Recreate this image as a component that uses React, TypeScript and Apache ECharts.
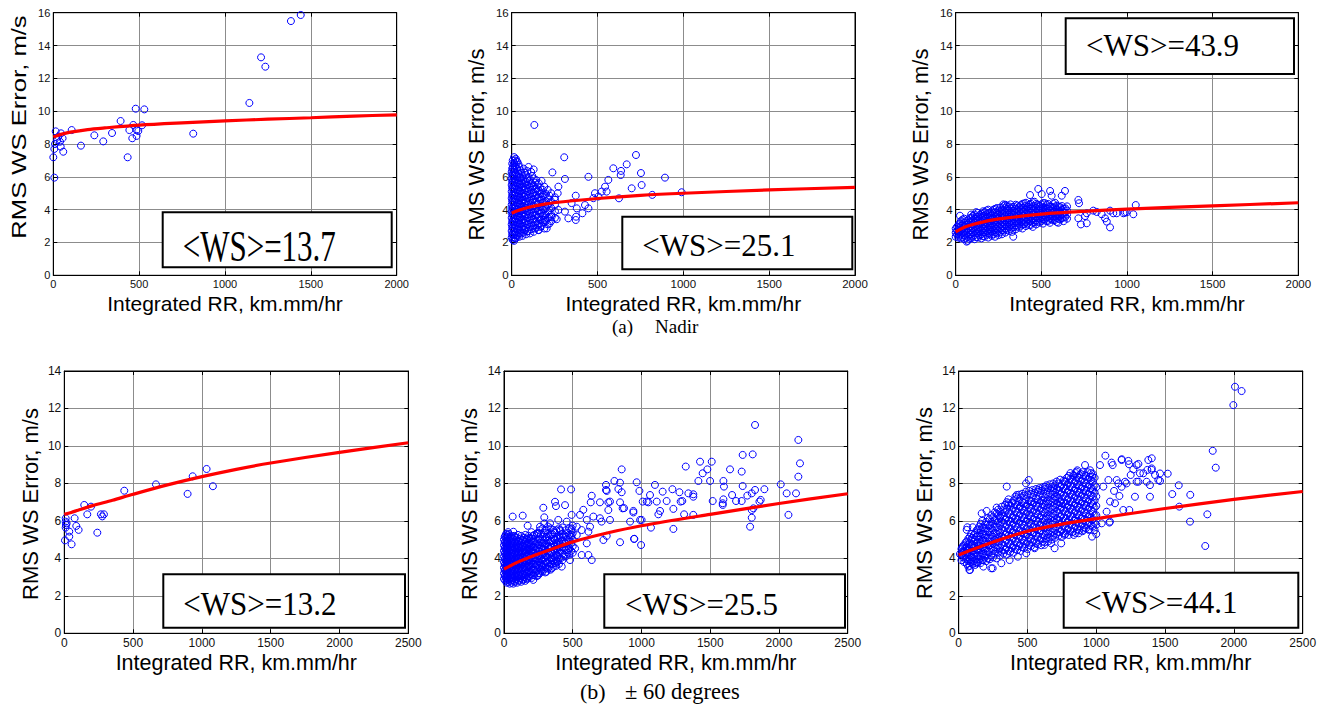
import React, { useEffect, useRef } from "react";
import * as echarts from "echarts";

// ------------------------------------------------------------------ data
const topXMax = 2000;
const bottomXMax = 2500;
const xInterval = 500;
const topYMax = 16;
const bottomYMax = 14;
const yInterval = 2;

const xTitle = "Integrated RR, km.mm/hr";
const yTitle = "RMS WS Error, m/s";
const wsLabels = ["<WS>=13.7", "<WS>=25.1", "<WS>=43.9", "<WS>=13.2", "<WS>=25.5", "<WS>=44.1"];
const captionA = ["(a)", "Nadir"];
const captionB = ["(b)", "± 60 degrees"];

type Col = [number, number[]];

// (a) Nadir, <WS>=13.7
const p1Points = [
  [1441, 15.86], [1384, 15.49], [1210, 13.28], [1235, 12.71], [1142, 10.5], [815, 8.63],
  [480, 10.15], [530, 10.11], [392, 9.4], [466, 9.16], [517, 9.14], [443, 8.85], [485, 8.85],
  [495, 8.79], [460, 8.35], [485, 8.49], [433, 7.19], [342, 8.67], [239, 8.53], [291, 8.16],
  [161, 7.9], [107, 8.85], [14, 8.77], [45, 8.65], [54, 8.35], [39, 8.14], [43, 7.84],
  [58, 7.53], [10, 8.0], [6, 7.7], [0, 7.19], [6, 5.95], [23, 8.24], [29, 8.45],
];
const p1Fit = [
  [0, 8.42], [25, 8.52], [50, 8.6], [100, 8.72], [200, 8.88], [300, 8.98], [500, 9.15],
  [750, 9.29], [1000, 9.41], [1250, 9.51], [1500, 9.6], [1750, 9.7], [2000, 9.78],
];

// (a) Nadir, <WS>=25.1
const p2Points = [
  [132, 9.16], [306, 7.19], [724, 7.33], [670, 6.76], [592, 6.52], [637, 6.36], [635, 6.11],
  [753, 6.23], [893, 5.95], [757, 5.5], [699, 5.3], [625, 4.69], [819, 4.9], [990, 5.06],
  [563, 5.81], [544, 5.4], [524, 5.1], [485, 5.0], [476, 4.7], [505, 4.8], [553, 5.1],
  [447, 6.0], [373, 4.85], [447, 4.08], [373, 3.37], [375, 3.57], [412, 3.78], [427, 4.28],
  [310, 3.88], [330, 3.47], [272, 3.98], [262, 3.42], [233, 3.57], [237, 6.27], [272, 5.4],
  [268, 5.0], [310, 5.87], [252, 4.6], [349, 4.4], [379, 4.08], [204, 2.86], [194, 3.37],
  [155, 2.76],
];
const p2Cloud: Col[] = [
  [0, [2.3, 2.7, 3.1, 3.5, 3.9, 4.3, 4.7, 5.1, 5.5, 5.9, 6.3]],
  [3, [2.5, 2.92, 3.28, 3.72, 4.1, 4.52, 4.88, 5.32, 5.7, 6.12, 6.5, 6.8]],
  [6, [2.15, 2.5, 2.9, 3.3, 3.7, 4.1, 4.5, 4.9, 5.3, 5.7, 6.1, 6.55, 7.0]],
  [10, [2.3, 2.68, 3.1, 3.48, 3.88, 4.3, 4.68, 5.08, 5.48, 5.9, 6.28, 6.72]],
  [14, [2.1, 2.45, 2.85, 3.25, 3.65, 4.05, 4.45, 4.85, 5.25, 5.65, 6.05, 6.45, 6.85, 7.2]],
  [19, [2.28, 2.62, 3.05, 3.42, 3.86, 4.22, 4.64, 5.02, 5.44, 5.84, 6.22, 6.62, 7.0]],
  [24, [2.25, 2.65, 3.05, 3.45, 3.85, 4.25, 4.65, 5.05, 5.45, 5.85, 6.25, 6.7, 7.1]],
  [29, [2.45, 2.86, 3.24, 3.66, 4.04, 4.46, 4.84, 5.26, 5.66, 6.06, 6.5, 6.95]],
  [34, [2.4, 2.8, 3.2, 3.6, 4.0, 4.4, 4.8, 5.2, 5.6, 6.0, 6.4, 6.9]],
  [40, [2.55, 2.98, 3.38, 3.78, 4.18, 4.58, 4.98, 5.38, 5.78, 6.2, 6.75]],
  [45, [2.35, 2.75, 3.15, 3.55, 3.95, 4.35, 4.75, 5.15, 5.55, 5.95, 6.6]],
  [51, [2.6, 3.12, 3.52, 3.92, 4.32, 4.72, 5.12, 5.52, 5.95, 6.4]],
  [57, [2.55, 2.95, 3.35, 3.75, 4.15, 4.55, 4.95, 5.35, 5.75, 6.25]],
  [63, [2.4, 2.8, 3.2, 3.6, 4.0, 4.4, 4.8, 5.2, 5.6, 6.05]],
  [70, [2.6, 3.0, 3.4, 3.8, 4.2, 4.6, 5.0, 5.4, 5.9, 6.5]],
  [77, [2.75, 3.18, 3.58, 3.98, 4.38, 4.78, 5.18, 5.6, 6.25]],
  [84, [2.5, 2.9, 3.3, 3.7, 4.1, 4.5, 4.9, 5.3, 5.7, 6.1]],
  [91, [2.68, 3.1, 3.5, 3.9, 4.3, 4.72, 5.12, 5.5, 5.85, 6.35]],
  [98, [2.7, 3.1, 3.5, 3.9, 4.3, 4.7, 5.1, 5.5, 6.0, 6.6]],
  [106, [2.55, 2.95, 3.35, 3.75, 4.15, 4.55, 4.95, 5.35, 5.8]],
  [113, [2.8, 3.2, 3.6, 4.0, 4.4, 4.8, 5.2, 5.6, 6.3]],
  [120, [3.0, 3.4, 3.8, 4.2, 4.6, 5.0, 5.4, 6.05]],
  [128, [2.65, 3.05, 3.45, 3.85, 4.25, 4.65, 5.05, 5.45, 5.9, 6.45]],
  [136, [2.85, 3.25, 3.65, 4.05, 4.45, 4.85, 5.25, 5.65]],
  [143, [2.9, 3.3, 3.7, 4.1, 4.5, 4.9, 5.3, 5.8]],
  [151, [3.05, 3.5, 3.9, 4.3, 4.7, 5.1, 5.5]],
  [158, [2.75, 3.15, 3.55, 3.95, 4.35, 4.75, 5.15, 5.6]],
  [166, [2.95, 3.35, 3.75, 4.15, 4.55, 4.95, 5.35]],
  [174, [3.0, 3.4, 3.8, 4.2, 4.6, 5.0, 5.75]],
  [182, [3.2, 3.6, 4.0, 4.4, 4.8, 5.2]],
  [190, [2.85, 3.25, 3.65, 4.05, 4.45, 4.9, 5.4]],
  [200, [3.3, 3.7, 4.1, 4.5, 4.95]],
  [210, [3.1, 3.5, 3.9, 4.3, 4.7, 5.2]],
  [220, [3.15, 3.55, 3.95, 4.4, 4.85]],
  [230, [3.3, 3.7, 4.1, 4.5, 5.0]],
  [252, [3.5, 3.9, 4.3, 4.75]],
];
const p2Fit = [
  [0, 3.78], [25, 3.9], [50, 4.0], [100, 4.15], [200, 4.35], [300, 4.48], [500, 4.68],
  [750, 4.87], [1000, 5.0], [1500, 5.2], [2000, 5.36],
];

// (a) Nadir, <WS>=43.9
const p3Points = [
  [482, 5.26], [434, 4.89], [502, 4.95], [551, 5.14], [560, 4.85], [638, 5.14], [619, 4.85],
  [410, 4.42], [278, 4.32], [298, 4.22], [25, 3.63], [716, 4.59], [720, 4.39], [1051, 4.28],
  [1037, 3.72], [901, 2.92], [731, 3.1], [765, 3.17], [716, 3.47], [803, 3.94], [765, 3.78],
  [852, 3.72], [872, 3.47], [882, 3.27], [920, 3.78], [940, 3.78], [979, 3.78], [998, 3.84],
  [823, 3.86], [336, 2.35], [599, 3.2], [64, 2.05], [755, 3.61], [988, 3.82], [901, 3.94],
];
const p3Cloud: Col[] = [
  [0, [2.35, 2.6, 2.85]],
  [8, [2.48, 2.72, 2.95]],
  [15, [2.3, 2.55, 2.8, 3.05]],
  [22, [2.4, 2.66, 2.92, 3.15]],
  [30, [2.25, 2.5, 2.75, 3.0, 3.3]],
  [40, [2.33, 2.6, 2.86, 3.1, 3.4]],
  [50, [2.2, 2.45, 2.7, 2.95, 3.2, 3.45]],
  [60, [2.28, 2.55, 2.8, 3.05, 3.3]],
  [70, [2.1, 2.35, 2.6, 2.85, 3.1, 3.35]],
  [80, [2.22, 2.48, 2.72, 2.98, 3.22, 3.48]],
  [90, [2.25, 2.5, 2.75, 3.0, 3.25, 3.5, 3.7]],
  [100, [2.36, 2.62, 2.88, 3.12, 3.38, 3.62]],
  [110, [2.2, 2.45, 2.7, 2.95, 3.2, 3.45, 3.7]],
  [120, [2.32, 2.58, 2.82, 3.08, 3.34, 3.58, 3.85]],
  [130, [2.3, 2.55, 2.8, 3.05, 3.3, 3.55, 3.8]],
  [140, [2.42, 2.68, 2.92, 3.18, 3.42, 3.68]],
  [150, [2.25, 2.5, 2.75, 3.0, 3.25, 3.5, 3.75]],
  [160, [2.38, 2.62, 2.88, 3.12, 3.38, 3.62, 3.9]],
  [170, [2.35, 2.6, 2.85, 3.1, 3.35, 3.6, 3.85]],
  [180, [2.46, 2.72, 2.98, 3.22, 3.48, 3.72, 3.95]],
  [190, [2.3, 2.55, 2.8, 3.05, 3.3, 3.55, 3.8, 4.0]],
  [200, [2.52, 2.78, 3.02, 3.28, 3.52, 3.78]],
  [210, [2.4, 2.65, 2.9, 3.15, 3.4, 3.65, 3.9]],
  [220, [2.5, 2.76, 3.0, 3.26, 3.5, 3.76, 4.0]],
  [230, [2.35, 2.6, 2.85, 3.1, 3.35, 3.6, 3.85, 4.05]],
  [240, [2.58, 2.82, 3.08, 3.32, 3.58, 3.82, 4.1]],
  [250, [2.45, 2.7, 2.95, 3.2, 3.45, 3.7, 3.95]],
  [260, [2.62, 2.88, 3.12, 3.38, 3.62, 3.88, 4.12]],
  [270, [2.5, 2.75, 3.0, 3.25, 3.5, 3.75, 4.0]],
  [280, [2.72, 2.98, 3.22, 3.48, 3.72, 3.98, 4.22]],
  [290, [2.6, 2.85, 3.1, 3.35, 3.6, 3.85, 4.1, 4.3]],
  [300, [2.78, 3.02, 3.28, 3.52, 3.78, 4.02]],
  [310, [2.7, 2.95, 3.2, 3.45, 3.7, 3.95, 4.2]],
  [320, [2.82, 3.08, 3.32, 3.58, 3.82, 4.08, 4.32]],
  [330, [2.65, 2.9, 3.15, 3.4, 3.65, 3.9, 4.15]],
  [340, [2.92, 3.18, 3.42, 3.68, 3.92, 4.18]],
  [350, [2.8, 3.05, 3.3, 3.55, 3.8, 4.05, 4.3]],
  [360, [2.98, 3.22, 3.48, 3.72, 3.98, 4.25]],
  [370, [2.9, 3.15, 3.4, 3.65, 3.9, 4.15]],
  [380, [3.02, 3.28, 3.52, 3.78, 4.02, 4.28]],
  [390, [2.85, 3.1, 3.35, 3.6, 3.85, 4.1, 4.35]],
  [400, [3.12, 3.38, 3.62, 3.88, 4.12, 4.38]],
  [410, [3.0, 3.25, 3.5, 3.75, 4.0, 4.25]],
  [420, [3.15, 3.42, 3.68, 3.92, 4.18]],
  [430, [3.05, 3.3, 3.55, 3.8, 4.05, 4.3]],
  [440, [3.08, 3.32, 3.58, 3.82, 4.08, 4.35]],
  [450, [2.95, 3.2, 3.45, 3.7, 3.95, 4.2, 4.45]],
  [460, [3.22, 3.48, 3.72, 3.98, 4.22, 4.48]],
  [470, [3.1, 3.35, 3.6, 3.85, 4.1, 4.35]],
  [480, [3.28, 3.52, 3.78, 4.02, 4.3]],
  [490, [3.2, 3.45, 3.7, 3.95, 4.2]],
  [500, [3.3, 3.55, 3.8, 4.08, 4.32]],
  [510, [3.15, 3.4, 3.65, 3.9, 4.15, 4.4]],
  [520, [3.38, 3.62, 3.88, 4.12, 4.4]],
  [530, [3.3, 3.55, 3.8, 4.05, 4.3]],
  [540, [3.32, 3.58, 3.82, 4.08, 4.35]],
  [550, [3.2, 3.45, 3.7, 3.95, 4.2]],
  [560, [3.42, 3.68, 3.92, 4.18]],
  [570, [3.35, 3.6, 3.85, 4.1, 4.35]],
  [580, [3.38, 3.62, 3.88, 4.15, 4.42]],
  [590, [3.25, 3.5, 3.75, 4.0, 4.25]],
  [600, [3.45, 3.72, 3.95, 4.2]],
  [610, [3.4, 3.65, 3.9, 4.15]],
  [620, [3.48, 3.72, 3.98, 4.22]],
  [630, [3.3, 3.55, 3.8, 4.05]],
  [640, [3.55, 3.82, 4.08]],
  [650, [3.45, 3.7, 3.95, 4.2]],
];
const p3Fit = [
  [0, 2.65], [25, 2.8], [50, 2.93], [100, 3.1], [200, 3.35], [300, 3.5], [500, 3.73],
  [750, 3.9], [1000, 4.03], [1500, 4.23], [2000, 4.42],
];

// (b) ±60 degrees, <WS>=13.2
const p4Points = [
  [1034, 8.77], [933, 8.38], [1080, 7.85], [896, 7.44], [666, 7.95], [436, 7.61], [145, 6.85],
  [194, 6.76], [167, 6.35], [266, 6.35], [288, 6.35], [276, 6.24], [240, 5.37], [75, 6.14],
  [87, 5.73], [104, 5.52], [36, 5.43], [36, 5.16], [53, 4.75], [5, 4.96], [10, 6.14],
  [10, 5.96], [12, 5.78], [10, 5.64], [17, 5.87],
];
const p4Fit = [
  [0, 6.35], [50, 6.45], [100, 6.57], [200, 6.8], [350, 7.1], [500, 7.42], [750, 7.92],
  [1000, 8.36], [1250, 8.75], [1500, 9.09], [2000, 9.66], [2500, 10.17],
];

// (b) ±60 degrees, <WS>=25.5
const p5Points = [
  [1826, 11.12], [2141, 10.32], [2153, 9.07], [2141, 8.36], [1809, 9.55], [1736, 9.52],
  [1729, 8.63], [2013, 7.95], [2056, 7.47], [2124, 7.47], [2069, 6.32], [1894, 7.69],
  [1867, 7.12], [1858, 7.03], [1826, 7.65], [1802, 7.47], [1790, 5.69], [1802, 6.17],
  [1802, 6.58], [1814, 6.67], [1770, 7.35], [1729, 7.06], [1736, 7.86], [1688, 7.06],
  [1659, 7.38], [1644, 8.75], [1591, 6.94], [1596, 8.13], [1600, 7.83], [1596, 7.15],
  [1591, 6.85], [1511, 9.16], [1499, 8.13], [1518, 7.06], [1479, 8.75], [1445, 8.54],
  [1426, 9.16], [1414, 8.13], [1377, 7.42], [1377, 7.29], [1377, 6.32], [1341, 7.47],
  [1322, 8.9], [1310, 6.35], [1297, 7.06], [1285, 7.03], [1276, 7.53], [1232, 6.64],
  [1232, 5.57], [1225, 7.69], [1183, 7.06], [1154, 7.56], [1135, 6.53], [1123, 6.35],
  [1111, 7.03], [1098, 7.92], [1069, 5.64], [1062, 7.38], [1038, 7.03], [1009, 7.03],
  [1001, 6.05], [997, 4.71], [985, 7.6], [965, 8.06], [948, 5.04], [941, 6.53], [917, 5.96],
  [863, 6.67], [856, 8.75], [844, 8.04], [844, 4.86], [856, 7.53], [803, 8.13], [742, 7.65],
  [742, 7.92], [771, 7.03], [759, 6.58], [723, 4.98],
  [415, 7.68], [488, 7.68], [286, 6.7], [371, 7.02], [444, 6.84], [378, 6.79], [63, 6.23],
  [136, 6.28], [293, 6.19], [293, 5.87], [172, 5.74], [68, 5.42], [638, 7.34], [631, 6.99],
  [698, 6.99], [759, 6.99], [747, 7.6], [832, 7.7], [844, 6.99], [873, 6.68], [941, 6.45],
  [1050, 6.99], [990, 6.05], [946, 5.04], [747, 5.2], [771, 6.05], [710, 5.96], [626, 5.69],
  [614, 5.42], [602, 4.8], [638, 3.91], [614, 4.18], [565, 4.18], [517, 4.53], [529, 5.24],
  [529, 5.69], [565, 5.51], [602, 6.05], [650, 6.23], [698, 6.14], [553, 6.32], [577, 6.59],
  [492, 6.32], [456, 5.96], [492, 5.6], [492, 5.24], [432, 5.15], [444, 4.8], [468, 4.45],
  [480, 3.91], [432, 4.09], [383, 3.82], [347, 3.47], [310, 3.29], [262, 3.74], [250, 3.11],
  [213, 2.85], [201, 4.36], [238, 5.33], [262, 5.69], [335, 5.87], [359, 5.51], [395, 6.05],
  [407, 5.51], [371, 4.98], [323, 4.62], [286, 4.27], [310, 5.15], [383, 4.53], [420, 3.56],
  [347, 3.91], [274, 3.56],
];
const p5Cloud: Col[] = [
  [0, [2.9, 3.2, 3.5, 3.8, 4.1, 4.4, 4.7, 5.0]],
  [5, [3.05, 3.35, 3.65, 3.95, 4.25, 4.55, 4.85, 5.15]],
  [10, [2.8, 3.1, 3.4, 3.7, 4.0, 4.3, 4.6, 4.9, 5.2]],
  [15, [2.95, 3.25, 3.55, 3.85, 4.15, 4.45, 4.75, 5.05, 5.3]],
  [20, [2.7, 3.0, 3.3, 3.6, 3.9, 4.2, 4.5, 4.8, 5.1]],
  [25, [2.85, 3.15, 3.45, 3.75, 4.05, 4.35, 4.65, 4.95, 5.25]],
  [30, [2.75, 3.05, 3.35, 3.65, 3.95, 4.25, 4.55, 4.85, 5.15, 5.4]],
  [36, [2.9, 3.2, 3.5, 3.8, 4.1, 4.4, 4.7, 5.0, 5.3]],
  [42, [2.65, 2.95, 3.25, 3.55, 3.85, 4.15, 4.45, 4.75, 5.05]],
  [48, [2.8, 3.1, 3.4, 3.7, 4.0, 4.3, 4.6, 4.9, 5.2]],
  [55, [2.7, 3.0, 3.3, 3.6, 3.9, 4.2, 4.5, 4.8, 5.1]],
  [61, [2.85, 3.15, 3.45, 3.75, 4.05, 4.35, 4.65, 4.95]],
  [68, [2.65, 2.95, 3.25, 3.55, 3.85, 4.15, 4.45, 4.75, 5.05]],
  [74, [2.8, 3.1, 3.4, 3.7, 4.0, 4.3, 4.6, 4.9, 5.2]],
  [80, [2.75, 3.05, 3.35, 3.65, 3.95, 4.25, 4.55, 4.85, 5.15]],
  [88, [2.9, 3.2, 3.5, 3.8, 4.1, 4.4, 4.7, 5.0]],
  [95, [2.7, 3.0, 3.3, 3.6, 3.9, 4.2, 4.5, 4.8, 5.1]],
  [102, [2.85, 3.15, 3.45, 3.75, 4.05, 4.35, 4.65, 4.95, 5.25]],
  [110, [2.8, 3.1, 3.4, 3.7, 4.0, 4.3, 4.6, 4.9]],
  [118, [2.95, 3.25, 3.55, 3.85, 4.15, 4.45, 4.75, 5.05]],
  [125, [2.75, 3.05, 3.35, 3.65, 3.95, 4.25, 4.55, 4.85, 5.2]],
  [132, [2.9, 3.2, 3.5, 3.8, 4.1, 4.4, 4.7, 5.0]],
  [140, [2.85, 3.15, 3.45, 3.75, 4.05, 4.35, 4.65, 4.95]],
  [148, [3.0, 3.3, 3.6, 3.9, 4.2, 4.5, 4.8, 5.1]],
  [155, [2.8, 3.1, 3.4, 3.7, 4.0, 4.3, 4.6, 4.9, 5.25]],
  [163, [2.95, 3.25, 3.55, 3.85, 4.15, 4.45, 4.75, 5.05]],
  [170, [2.9, 3.2, 3.5, 3.8, 4.1, 4.4, 4.7, 5.0]],
  [178, [3.05, 3.35, 3.65, 3.95, 4.25, 4.55, 4.85, 5.2]],
  [185, [3.0, 3.3, 3.6, 3.9, 4.2, 4.5, 4.8, 5.1]],
  [193, [3.15, 3.45, 3.75, 4.05, 4.35, 4.65, 4.95]],
  [200, [2.95, 3.25, 3.55, 3.85, 4.15, 4.45, 4.75, 5.05, 5.4]],
  [210, [3.1, 3.4, 3.7, 4.0, 4.3, 4.6, 4.9, 5.2]],
  [220, [3.1, 3.4, 3.7, 4.0, 4.3, 4.6, 4.9, 5.25]],
  [230, [3.25, 3.55, 3.85, 4.15, 4.45, 4.75, 5.05]],
  [240, [3.05, 3.35, 3.65, 3.95, 4.25, 4.55, 4.85, 5.3]],
  [250, [3.2, 3.5, 3.8, 4.1, 4.4, 4.7, 5.0, 5.35]],
  [260, [3.2, 3.5, 3.8, 4.1, 4.4, 4.7, 5.0, 5.5]],
  [270, [3.35, 3.65, 3.95, 4.25, 4.55, 4.85, 5.3]],
  [280, [3.3, 3.6, 3.9, 4.2, 4.5, 4.8, 5.15, 5.6]],
  [290, [3.4, 3.7, 4.0, 4.3, 4.65, 4.95, 5.35]],
  [300, [3.25, 3.55, 3.85, 4.15, 4.45, 4.75, 5.1, 5.5]],
  [310, [3.5, 3.8, 4.1, 4.4, 4.8, 5.15, 5.5]],
  [320, [3.45, 3.75, 4.05, 4.35, 4.65, 4.95, 5.3, 5.7]],
  [330, [3.55, 3.9, 4.2, 4.55, 4.85, 5.15]],
  [340, [3.4, 3.7, 4.0, 4.3, 4.6, 4.9, 5.25, 5.6]],
  [350, [3.7, 4.0, 4.3, 4.6, 4.95, 5.3]],
  [360, [3.55, 3.85, 4.15, 4.45, 4.75, 5.05, 5.4]],
  [370, [3.75, 4.05, 4.35, 4.65, 5.0, 5.35]],
  [380, [3.6, 3.9, 4.2, 4.5, 4.8, 5.1, 5.5]],
  [390, [3.85, 4.15, 4.45, 4.75, 5.05]],
  [400, [3.7, 4.0, 4.3, 4.6, 4.9, 5.2, 5.6]],
  [412, [4.0, 4.4, 4.75, 5.1, 5.45]],
  [425, [3.9, 4.25, 4.6, 4.95, 5.3, 5.65]],
  [438, [4.2, 4.55, 4.9, 5.25]],
  [450, [4.1, 4.45, 4.8, 5.15, 5.5]],
  [462, [4.3, 4.65, 5.0, 5.35]],
  [475, [4.2, 4.55, 4.9, 5.25, 5.6]],
  [488, [4.4, 4.8, 5.15, 5.5]],
  [500, [4.3, 4.65, 5.0, 5.35, 5.75]],
];
const p5Fit = [
  [0, 3.43], [50, 3.62], [100, 3.8], [200, 4.1], [350, 4.5], [500, 4.88], [750, 5.35],
  [1000, 5.74], [1500, 6.35], [2000, 6.93], [2500, 7.45],
];

// (b) ±60 degrees, <WS>=44.1
const p6Points = [
  [2008, 13.16], [2056, 12.93], [1996, 12.18], [1846, 9.74], [1868, 8.84], [1599, 7.9],
  [1552, 7.43], [1683, 7.39], [1603, 6.76], [1807, 6.35], [1681, 5.96], [1792, 4.66],
  [1519, 8.52], [1463, 8.53], [1451, 8.18], [1463, 8.13], [1427, 8.45], [1403, 8.8],
  [1403, 9.34], [1390, 7.29], [1390, 7.91],
  [1066, 9.48], [1119, 8.98], [1185, 9.29], [1233, 9.2], [1238, 9.02], [1306, 9.04],
  [1250, 8.45], [1306, 8.09], [1269, 8.75], [1209, 8.09], [1281, 7.29], [1240, 6.58],
  [1196, 6.58], [1095, 5.91], [1039, 5.87], [1168, 7.33], [1129, 7.6], [1100, 7.03],
  [1160, 8.0], [1088, 8.18], [1051, 7.83], [1366, 8.09], [1342, 8.54], [1371, 8.72],
  [349, 7.83], [63, 5.66], [102, 5.66], [167, 6.4], [203, 6.53], [276, 6.71], [247, 3.47],
  [78, 3.38],
  [509, 8.18], [489, 8.0], [627, 7.82], [688, 7.73], [769, 8.09], [833, 8.45], [857, 8.63],
  [877, 8.45], [918, 8.98], [955, 8.7], [969, 8.36], [1027, 8.98], [1111, 9.11], [1184, 9.25],
  [1317, 8.54], [1378, 9.25], [1402, 8.72], [1293, 8.98], [1148, 8.18], [1184, 7.82],
  [1220, 8.0], [1293, 8.09], [1136, 6.94], [1075, 6.49], [1099, 5.96], [969, 6.05],
  [969, 5.16], [945, 5.52], [908, 5.52], [872, 5.34], [836, 5.25], [769, 5.25], [745, 4.8],
  [697, 4.54], [672, 4.8], [624, 4.72], [552, 4.54], [491, 4.27], [430, 4.09], [370, 3.91],
  [310, 3.74], [237, 3.47], [179, 3.56], [130, 3.74], [82, 3.38], [70, 3.56], [58, 5.52],
  [300, 6.23], [361, 6.94], [421, 7.38], [445, 6.76], [530, 7.04], [578, 7.64], [614, 7.1],
  [699, 7.29], [745, 6.94], [26, 4.58], [9, 4.23],
];
const p6Cloud: Col[] = [
  [20, [3.9, 4.2, 4.5]],
  [30, [4.05, 4.35, 4.65]],
  [40, [3.8, 4.1, 4.4, 4.7]],
  [50, [3.95, 4.25, 4.55, 4.85]],
  [60, [3.7, 4.0, 4.3, 4.6, 4.9]],
  [70, [3.85, 4.15, 4.45, 4.75, 5.05]],
  [80, [3.6, 3.95, 4.25, 4.55, 4.85, 5.15]],
  [90, [3.8, 4.1, 4.4, 4.7, 5.0, 5.3]],
  [100, [3.7, 4.05, 4.4, 4.75, 5.1]],
  [110, [3.85, 4.2, 4.55, 4.9, 5.25]],
  [120, [3.65, 3.95, 4.3, 4.65, 5.0, 5.35]],
  [130, [3.8, 4.1, 4.45, 4.8, 5.15, 5.5]],
  [140, [3.8, 4.15, 4.5, 4.85, 5.2, 5.55]],
  [150, [3.95, 4.3, 4.65, 5.0, 5.35, 5.7]],
  [160, [3.75, 4.1, 4.45, 4.8, 5.15, 5.5, 5.85]],
  [170, [3.9, 4.25, 4.6, 4.95, 5.3, 5.65, 6.0]],
  [180, [3.9, 4.25, 4.6, 4.95, 5.3, 5.65]],
  [190, [4.05, 4.4, 4.75, 5.1, 5.45, 5.8]],
  [200, [3.85, 4.2, 4.55, 4.9, 5.25, 5.6, 5.95]],
  [212, [4.0, 4.35, 4.75, 5.1, 5.45, 5.8, 6.15]],
  [225, [3.95, 4.35, 4.7, 5.05, 5.4, 5.75, 6.1]],
  [237, [4.15, 4.55, 4.9, 5.25, 5.6, 5.95, 6.3]],
  [250, [4.05, 4.4, 4.8, 5.15, 5.5, 5.85, 6.2]],
  [262, [4.25, 4.6, 5.0, 5.35, 5.7, 6.05, 6.45]],
  [275, [4.0, 4.5, 4.9, 5.3, 5.65, 6.0, 6.4]],
  [287, [4.3, 4.7, 5.1, 5.5, 5.9, 6.3, 6.6]],
  [300, [4.15, 4.55, 4.95, 5.35, 5.75, 6.15, 6.5]],
  [312, [4.35, 4.75, 5.15, 5.55, 5.95, 6.35, 6.75]],
  [325, [4.25, 4.65, 5.05, 5.45, 5.85, 6.25, 6.6]],
  [337, [4.45, 4.85, 5.25, 5.65, 6.05, 6.45, 6.85]],
  [350, [4.2, 4.6, 5.0, 5.4, 5.8, 6.2, 6.65, 7.0]],
  [362, [4.4, 4.8, 5.2, 5.6, 6.0, 6.4, 6.85, 7.15]],
  [375, [4.35, 4.75, 5.15, 5.55, 5.95, 6.35, 6.8]],
  [387, [4.55, 4.95, 5.35, 5.75, 6.15, 6.55, 6.95]],
  [400, [4.3, 4.7, 5.1, 5.5, 5.9, 6.3, 6.7, 7.1]],
  [412, [4.5, 4.9, 5.3, 5.7, 6.1, 6.5, 6.9, 7.3]],
  [425, [4.45, 4.85, 5.25, 5.65, 6.05, 6.45, 6.85, 7.2]],
  [437, [4.65, 5.05, 5.45, 5.85, 6.25, 6.65, 7.05, 7.4]],
  [450, [4.4, 4.8, 5.2, 5.6, 6.0, 6.4, 6.8, 7.25]],
  [462, [4.6, 5.0, 5.4, 5.8, 6.2, 6.6, 7.0, 7.45]],
  [475, [4.55, 4.95, 5.35, 5.75, 6.15, 6.55, 6.95, 7.35]],
  [487, [4.75, 5.15, 5.55, 5.95, 6.35, 6.75, 7.15, 7.55]],
  [500, [4.5, 4.9, 5.3, 5.7, 6.1, 6.5, 6.9, 7.4]],
  [512, [4.7, 5.1, 5.5, 5.9, 6.3, 6.7, 7.1, 7.6]],
  [525, [4.65, 5.05, 5.45, 5.85, 6.25, 6.65, 7.05, 7.45]],
  [537, [4.85, 5.25, 5.65, 6.05, 6.45, 6.85, 7.25, 7.65]],
  [550, [4.6, 5.0, 5.4, 5.8, 6.2, 6.6, 7.0, 7.5]],
  [562, [4.8, 5.2, 5.6, 6.0, 6.4, 6.8, 7.2, 7.7]],
  [575, [4.75, 5.15, 5.55, 5.95, 6.35, 6.75, 7.15, 7.55]],
  [587, [4.95, 5.35, 5.75, 6.15, 6.55, 6.95, 7.35, 7.75]],
  [600, [4.7, 5.1, 5.5, 5.9, 6.3, 6.7, 7.1, 7.6]],
  [612, [4.9, 5.3, 5.7, 6.1, 6.5, 6.9, 7.3, 7.8]],
  [625, [4.85, 5.25, 5.65, 6.05, 6.45, 6.85, 7.25, 7.7]],
  [637, [5.05, 5.45, 5.85, 6.25, 6.65, 7.05, 7.45, 7.9]],
  [650, [4.9, 5.3, 5.7, 6.1, 6.5, 6.9, 7.3, 7.75]],
  [662, [5.1, 5.5, 5.9, 6.3, 6.7, 7.1, 7.5, 7.95]],
  [675, [5.0, 5.4, 5.8, 6.2, 6.6, 7.0, 7.4, 7.8]],
  [687, [5.2, 5.6, 6.0, 6.4, 6.8, 7.2, 7.6, 8.0]],
  [700, [5.1, 5.5, 5.9, 6.3, 6.7, 7.1, 7.5, 7.9]],
  [712, [5.3, 5.7, 6.1, 6.5, 6.9, 7.3, 7.7, 8.1]],
  [725, [5.2, 5.6, 6.0, 6.4, 6.8, 7.2, 7.6, 8.0]],
  [737, [5.4, 5.8, 6.2, 6.6, 7.0, 7.4, 7.8, 8.2]],
  [750, [5.15, 5.55, 5.95, 6.35, 6.75, 7.15, 7.55, 7.95]],
  [762, [5.35, 5.75, 6.15, 6.55, 6.95, 7.35, 7.75, 8.15]],
  [775, [5.3, 5.7, 6.1, 6.5, 6.9, 7.3, 7.7, 8.1]],
  [787, [5.5, 5.9, 6.3, 6.7, 7.1, 7.5, 7.9, 8.3]],
  [800, [5.25, 5.65, 6.05, 6.45, 6.85, 7.25, 7.65, 8.05, 8.4]],
  [812, [5.45, 5.85, 6.25, 6.65, 7.05, 7.45, 7.85, 8.25, 8.55]],
  [825, [5.4, 5.8, 6.2, 6.6, 7.0, 7.4, 7.8, 8.2]],
  [837, [5.6, 6.0, 6.4, 6.8, 7.2, 7.6, 8.0, 8.4]],
  [850, [5.35, 5.75, 6.15, 6.55, 6.95, 7.35, 7.75, 8.15, 8.55]],
  [862, [5.55, 5.95, 6.35, 6.75, 7.15, 7.55, 7.95, 8.35, 8.7]],
  [875, [5.5, 5.9, 6.3, 6.7, 7.1, 7.5, 7.9, 8.3]],
  [887, [5.7, 6.1, 6.5, 6.9, 7.3, 7.7, 8.1, 8.5]],
  [900, [5.45, 5.85, 6.25, 6.65, 7.05, 7.45, 7.85, 8.25, 8.6]],
  [912, [5.65, 6.05, 6.45, 6.85, 7.25, 7.65, 8.05, 8.45]],
  [925, [5.6, 6.0, 6.4, 6.8, 7.2, 7.6, 8.0, 8.4]],
  [937, [5.8, 6.2, 6.6, 7.0, 7.4, 7.8, 8.2, 8.6]],
  [950, [5.55, 5.95, 6.35, 6.75, 7.15, 7.55, 7.95, 8.35]],
  [962, [5.75, 6.15, 6.55, 6.95, 7.35, 7.75, 8.15, 8.55]],
  [975, [5.7, 6.1, 6.5, 6.9, 7.3, 7.7, 8.1, 8.5]],
  [988, [5.5, 5.9, 6.3, 6.7, 7.1, 7.5, 7.9, 8.3]],
  [1000, [5.3, 5.8, 6.3, 6.8, 7.3, 7.8]],
];
const p6Fit = [
  [0, 4.18], [50, 4.33], [100, 4.47], [250, 4.87], [500, 5.45], [750, 5.83], [1000, 6.12],
  [1500, 6.66], [2000, 7.15], [2500, 7.57],
];

// ------------------------------------------------------------------ layout
function expand(cols: Col[]): number[][] {
  const out: number[][] = [];
  for (const [x, ys] of cols) for (const y of ys) out.push([x, y]);
  return out;
}

const panels = [
  { l: 53.3, t: 12.7, w: 343.4, h: 262.6, xMax: topXMax, yMax: topYMax, pts: p1Points, fit: p1Fit, fs: 11, m: 3 },
  { l: 511.7, t: 12.7, w: 343.3, h: 262.6, xMax: topXMax, yMax: topYMax, pts: p2Points.concat(expand(p2Cloud)), fit: p2Fit, fs: 11.5, m: 3 },
  { l: 955.7, t: 12.7, w: 342.6, h: 262.6, xMax: topXMax, yMax: topYMax, pts: p3Points.concat(expand(p3Cloud)), fit: p3Fit, fs: 11.5, m: 3 },
  { l: 64.3, t: 371, w: 344, h: 262.3, xMax: bottomXMax, yMax: bottomYMax, pts: p4Points, fit: p4Fit, fs: 12, m: 4 },
  { l: 504, t: 371, w: 343.7, h: 262.3, xMax: bottomXMax, yMax: bottomYMax, pts: p5Points.concat(expand(p5Cloud)), fit: p5Fit, fs: 12, m: 4 },
  { l: 958.7, t: 371, w: 344, h: 262.3, xMax: bottomXMax, yMax: bottomYMax, pts: p6Points.concat(expand(p6Cloud)), fit: p6Fit, fs: 12, m: 4 },
];

const wsBoxes = [
  { x: 162.7, y: 212.3, w: 229, h: 55, tx: 182.7, ty: 246.3, sy: 1.4 },
  { x: 622.3, y: 216.7, w: 230, h: 52.6, tx: 642.3, ty: 245, sy: 1.05 },
  { x: 1065.7, y: 18.3, w: 228.3, h: 55.7, tx: 1086, ty: 45.3, sy: 1.05 },
  { x: 163.3, y: 574.3, w: 241.7, h: 53.4, tx: 183.3, ty: 603.7, sy: 1.08 },
  { x: 604.3, y: 574.3, w: 240.7, h: 53.4, tx: 625, ty: 604, sy: 1.05 },
  { x: 1063.7, y: 572.7, w: 234.6, h: 55, tx: 1084.3, ty: 602.8, sy: 1.03 },
];

const yTitlePos = [
  { x: 18.8, y: 127, fs: 20, s: 1.28 },
  { x: 476.7, y: 144.5, fs: 22, s: 1 },
  { x: 920, y: 144.5, fs: 22, s: 1 },
  { x: 30, y: 504, fs: 22, s: 1 },
  { x: 469.3, y: 504, fs: 22, s: 1 },
  { x: 924.3, y: 503, fs: 22, s: 1 },
];

const SANS = "'Liberation Sans', Arial, Helvetica, sans-serif";
const SERIF = "'Liberation Serif', 'Times New Roman', serif";
const plain = (v: number) => String(v);

function buildOption() {
  const grid: any[] = [];
  const xAxis: any[] = [];
  const yAxis: any[] = [];
  const series: any[] = [];
  const graphic: any[] = [];

  panels.forEach((p, i) => {
    grid.push({
      left: p.l, top: p.t, width: p.w, height: p.h,
      show: true, backgroundColor: "#fff", borderColor: "#000", borderWidth: 1,
      containLabel: false,
    });
    const lbl = { color: "#111", fontSize: p.fs, fontFamily: SANS, formatter: plain };
    xAxis.push({
      gridIndex: i, type: "value", position: "bottom", min: 0, max: p.xMax, interval: xInterval,
      axisLine: { show: true, onZero: false, lineStyle: { color: "#000", width: 1 } },
      axisTick: { show: true, inside: true, length: 4, lineStyle: { color: "#000" } },
      axisLabel: { ...lbl, margin: p.m },
      splitLine: { show: true, lineStyle: { color: "#8c8c8c", width: 1 } },
    });
    yAxis.push({
      gridIndex: i, type: "value", position: "left", min: 0, max: p.yMax, interval: yInterval,
      axisLine: { show: true, onZero: false, lineStyle: { color: "#000", width: 1 } },
      axisTick: { show: true, inside: true, length: 4, lineStyle: { color: "#000" } },
      axisLabel: { ...lbl, margin: 3 },
      splitLine: { show: true, lineStyle: { color: "#8c8c8c", width: 1 } },
    });
  });
  panels.forEach((p, i) => {
    xAxis.push({
      gridIndex: i, type: "value", position: "top", min: 0, max: p.xMax, interval: xInterval,
      axisLine: { show: true, onZero: false, lineStyle: { color: "#000", width: 1 } },
      axisTick: { show: true, inside: true, length: 4, lineStyle: { color: "#000" } },
      axisLabel: { show: false }, splitLine: { show: false },
    });
    yAxis.push({
      gridIndex: i, type: "value", position: "right", min: 0, max: p.yMax, interval: yInterval,
      axisLine: { show: true, onZero: false, lineStyle: { color: "#000", width: 1 } },
      axisTick: { show: true, inside: true, length: 4, lineStyle: { color: "#000" } },
      axisLabel: { show: false }, splitLine: { show: false },
    });
  });

  panels.forEach((p, i) => {
    series.push({
      type: "scatter", xAxisIndex: i, yAxisIndex: i, data: p.pts,
      symbol: "circle", symbolSize: 7, z: 2,
      itemStyle: { color: "rgba(0,0,0,0)", borderColor: "#0000ff", borderWidth: 1, opacity: 1 },
      emphasis: { disabled: true }, silent: true,
    });
    series.push({
      type: "line", xAxisIndex: i, yAxisIndex: i, data: p.fit, smooth: 0.3,
      symbol: "none", z: 3, lineStyle: { color: "#ff0000", width: 3.2 },
      emphasis: { disabled: true }, silent: true,
    });

    graphic.push({
      type: "text", x: p.l + p.w / 2, y: i < 3 ? 303.5 : 662.5, z: 100,
      style: { text: xTitle, fontSize: i < 3 ? 21 : 21.5, fontFamily: SANS, fill: "#000", align: "center", verticalAlign: "middle" },
    });
    const yt = yTitlePos[i];
    graphic.push({
      type: "text", x: yt.x, y: yt.y, rotation: Math.PI / 2, scaleX: yt.s, z: 100,
      style: { text: yTitle, fontSize: yt.fs, fontFamily: SANS, fill: "#000", align: "center", verticalAlign: "middle" },
    });
    const b = wsBoxes[i];
    graphic.push({
      type: "rect", z: 100,
      shape: { x: b.x, y: b.y, width: b.w, height: b.h },
      style: { fill: "#fff", stroke: "#000", lineWidth: 2 },
    });
    graphic.push({
      type: "text", x: b.tx, y: b.ty, scaleY: b.sy, z: 101,
      style: { text: wsLabels[i], fontSize: 31, fontFamily: SERIF, fill: "#000", align: "left", verticalAlign: "middle" },
    });
  });

  graphic.push({
    type: "text", x: 612, y: 326.5, z: 100,
    style: { text: captionA[0], fontSize: 19, fontFamily: SERIF, fill: "#000", align: "left", verticalAlign: "middle" },
  });
  graphic.push({
    type: "text", x: 655, y: 326.5, z: 100,
    style: { text: captionA[1], fontSize: 19, fontFamily: SERIF, fill: "#000", align: "left", verticalAlign: "middle" },
  });
  graphic.push({
    type: "text", x: 580, y: 691, z: 100,
    style: { text: captionB[0], fontSize: 22, fontFamily: SERIF, fill: "#000", align: "left", verticalAlign: "middle" },
  });
  graphic.push({
    type: "text", x: 625, y: 691, z: 100,
    style: { text: captionB[1], fontSize: 22.5, fontFamily: SERIF, fill: "#000", align: "left", verticalAlign: "middle" },
  });

  return {
    animation: false,
    backgroundColor: "#fff",
    grid, xAxis, yAxis, series, graphic,
  };
}

export default function App() {
  const ref = useRef<HTMLDivElement>(null);
  useEffect(() => {
    if (!ref.current) return;
    const chart = echarts.init(ref.current, undefined, { renderer: "svg" });
    chart.setOption(buildOption() as any);
    return () => chart.dispose();
  }, []);
  return (
    <div
      ref={ref}
      style={{ position: "absolute", left: 0, top: 0, width: 1322, height: 705, background: "#fff" }}
    />
  );
}
